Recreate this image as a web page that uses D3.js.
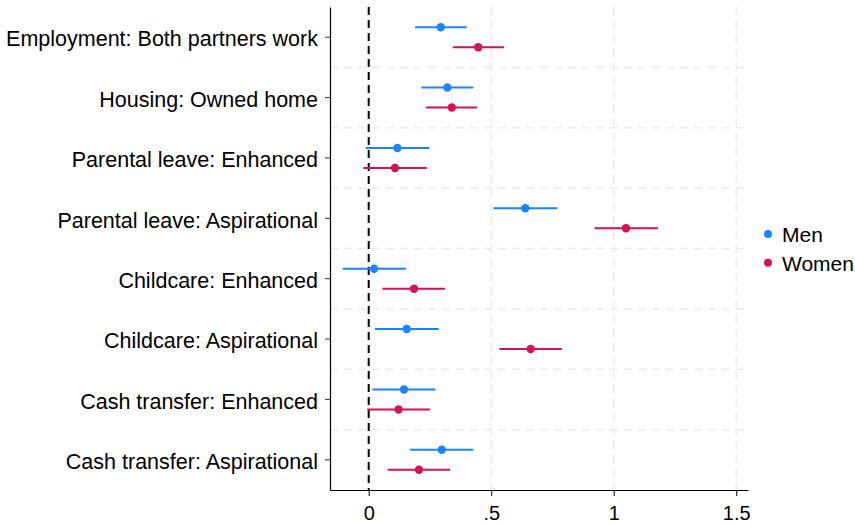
<!DOCTYPE html>
<html><head><meta charset="utf-8">
<script src="https://cdn.jsdelivr.net/npm/d3@7"></script>
<style>body{margin:0;background:#fff}svg{display:block}</style>
</head><body>
<svg id="chart" width="855" height="524"></svg>
<script>
const categories = ["Employment: Both partners work","Housing: Owned home","Parental leave: Enhanced","Parental leave: Aspirational","Childcare: Enhanced","Childcare: Aspirational","Cash transfer: Enhanced","Cash transfer: Aspirational"];
const seriesNames = ["Men","Women"];
const menEst  = [0.294,0.321,0.117,0.639,0.022,0.155,0.144,0.298];
const menLo   = [0.189,0.215,-0.012,0.509,-0.106,0.026,0.015,0.169];
const menHi   = [0.400,0.427,0.247,0.770,0.152,0.286,0.272,0.427];
const womenEst= [0.447,0.339,0.107,1.050,0.185,0.661,0.122,0.205];
const womenLo = [0.343,0.234,-0.022,0.922,0.056,0.533,-0.006,0.077];
const womenHi = [0.552,0.442,0.237,1.180,0.311,0.788,0.250,0.332];
const xTicks = [0,0.5,1,1.5];
const xTickLabels = ["0",".5","1","1.5"];
const colors = ["#1a85ff","#d41159"];

const svg = d3.select("#chart");
const L=330, R=748, T=7, B=490;
const x = d3.scaleLinear().domain([-0.158,1.548]).range([L,R]);
const y = d3.scaleBand().domain(categories).range([T,B]).padding(0);
const font = "'Liberation Sans', Arial, Helvetica, sans-serif";

// gridlines
const g = svg.append("g");
g.selectAll("line.vg").data(xTicks.filter(d=>d!==0)).join("line")
  .attr("x1",d=>x(d)).attr("x2",d=>x(d)).attr("y1",T).attr("y2",B)
  .attr("stroke","#ebebeb").attr("stroke-width",1.5).attr("stroke-dasharray","8,6");
g.selectAll("line.hg").data(categories.slice(1)).join("line")
  .attr("x1",L).attr("x2",R).attr("y1",d=>y(d)).attr("y2",d=>y(d))
  .attr("stroke","#ebebeb").attr("stroke-width",1.5).attr("stroke-dasharray","8,6");

// zero line
svg.append("line").attr("x1",x(0)).attr("x2",x(0)).attr("y1",T).attr("y2",B)
  .attr("stroke","#000").attr("stroke-width",2).attr("stroke-dasharray","8,5");

// series
const series = [
  {name:seriesNames[0], est:menEst, lo:menLo, hi:menHi, off:-10, color:colors[0]},
  {name:seriesNames[1], est:womenEst, lo:womenLo, hi:womenHi, off:10, color:colors[1]}
];
series.forEach(s=>{
  const data = categories.map((c,i)=>({c, e:s.est[i], lo:s.lo[i], hi:s.hi[i]}));
  const cy = d=> y(d.c)+y.bandwidth()/2+s.off;
  svg.append("g").selectAll("line").data(data).join("line")
    .attr("x1",d=>x(d.lo)).attr("x2",d=>x(d.hi)).attr("y1",cy).attr("y2",cy)
    .attr("stroke",s.color).attr("stroke-width",2);
  svg.append("g").selectAll("circle").data(data).join("circle")
    .attr("cx",d=>x(d.e)).attr("cy",cy).attr("r",4.2).attr("fill",s.color);
});

// axes
const xAxis = svg.append("g").attr("transform",`translate(0,${B})`)
  .call(d3.axisBottom(x).tickValues(xTicks).tickFormat((d,i)=>xTickLabels[i]).tickSize(6).tickSizeOuter(0));
xAxis.select(".domain").attr("stroke","#000").attr("stroke-width",1.2);
xAxis.selectAll(".tick line").attr("stroke","#000");
xAxis.selectAll(".tick text").attr("font-family",font).attr("font-size",20).attr("fill","#000")
  .attr("y",30).attr("dy","0");

const yAxis = svg.append("g").attr("transform",`translate(${L},0)`)
  .call(d3.axisLeft(y).tickSize(5).tickSizeOuter(0));
yAxis.select(".domain").attr("stroke","#000").attr("stroke-width",1.2);
yAxis.selectAll(".tick line").attr("stroke","#333");
yAxis.selectAll(".tick text").attr("font-family",font).attr("font-size",21.5).attr("fill","#000")
  .attr("x",-12).attr("dy","0.43em");

// legend
const leg = svg.append("g");
series.forEach((s,i)=>{
  leg.append("circle").attr("cx",768).attr("cy",234+i*28.7).attr("r",4).attr("fill",s.color);
  leg.append("text").attr("x",782).attr("y",234+i*28.7).attr("dy","0.38em")
    .attr("font-family",font).attr("font-size",21).attr("fill","#000").text(s.name);
});
</script>
</body></html>
